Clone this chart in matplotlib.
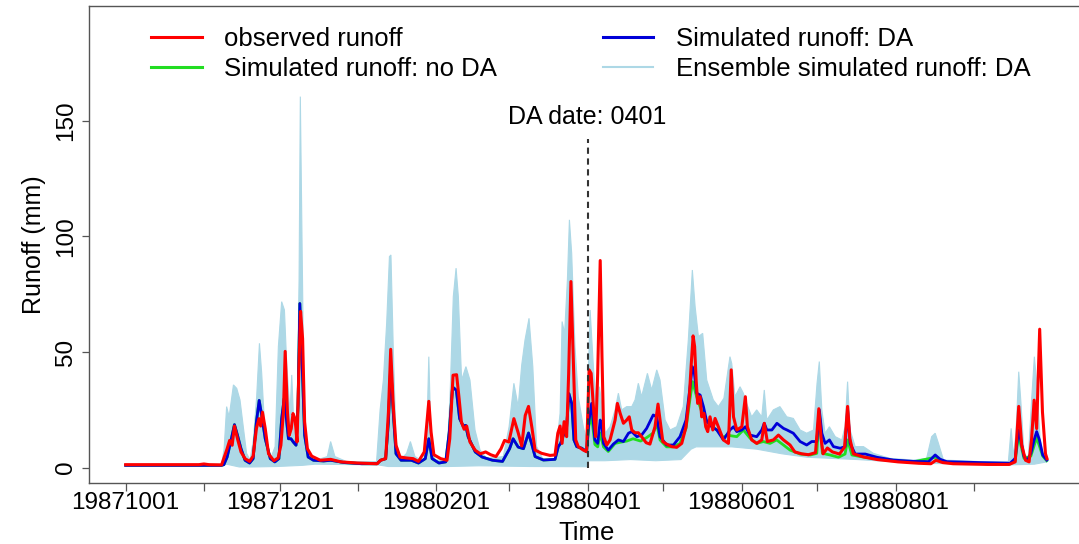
import numpy as np
import matplotlib
matplotlib.use("Agg")
import matplotlib.pyplot as plt
from matplotlib.lines import Line2D

plt.rcParams["font.family"] = ["Liberation Sans", "DejaVu Sans"]

# ------------------------------------------------------------
# Data (day index from 1987-10-01, runoff in mm)
# ------------------------------------------------------------
obs_day = [0, 29, 31, 33, 38, 40.2, 41.2, 42.2, 43.1, 44.3, 45.7, 47.3, 49.1, 50.5, 51.8, 52.8, 53.5, 54.2,
           55.3, 56.6, 58.7, 60.4, 61.5, 62.5, 63.2, 64.1, 64.8, 65.6, 66.3, 67.1, 67.9, 68.6, 69.3, 70.1,
           70.9, 72, 73.7, 77.1, 81.2, 85.3, 92, 99.6, 101, 103, 104.1, 105, 106, 107.1, 108.7, 111.2,
           113.9, 116, 118.3, 120.1, 121, 122.1, 124.8, 127.3, 128.4, 129.7, 131.1, 132.1, 133, 134.1,
           135.1, 136.4, 138.5, 140.5, 142.6, 144.6, 146.7, 148.7, 150.1, 151.8, 153.8, 155.5, 156.9,
           158.3, 159.6, 161, 162.2, 164.8, 168.1, 170.1, 171.2, 172.1, 172.9, 173.7, 174.7, 175.5,
           176.4, 177.3, 178.3, 179.3, 181.3, 182.6, 183.6, 184.4, 185.3, 186.2, 187, 188, 188.7, 189.4,
           190.6, 191.9, 193.9, 194.8, 195.9, 197.2, 198.5, 199.5, 200.5, 201.8, 203.1, 204.4, 206.2,
           207.7, 209.7, 210.9, 211.7, 212.8, 214.3, 216.3, 218.3, 220.3, 222, 223.3, 224, 224.8, 225.4,
           226, 226.6, 227.6, 228.2, 229.1, 229.8, 230.6, 231.5, 232.6, 233.5, 234.8, 236.8, 238.8,
           239.9, 240.8, 242.1, 244.1, 245.5, 246.3, 248, 250, 252, 253, 254.2, 256.6, 258.6, 260.6,
           263.2, 265.1, 267.8, 270.5, 273.3, 274.6, 275.5, 276.3, 278, 280, 282.8, 284.8, 286, 286.9,
           288.3, 292.4, 297.8, 306, 314.2, 319, 321, 323.7, 327.8, 341.5, 350, 352.4, 353.8, 355,
           356.5, 357.9, 358.9, 359.9, 360.9, 362.1, 363.2, 364.4, 365]
obs_val = [1.3, 1.3, 1.6, 1.3, 1.2, 8.2, 11.8, 9.7, 18, 12.5, 6.8, 3.9, 2.7, 5, 16.9, 21.2, 18, 24,
           16.9, 6, 3, 4.2, 9.7, 24, 50.3, 24, 14, 16.9, 23.4, 21.2, 11.1, 41.4, 67.6, 55.8,
           19.8, 8.2, 5, 3.2, 3.6, 2.5, 2, 1.7, 3.2, 3.9, 24, 51.2, 27, 9.7, 4.6, 4.2,
           3.9, 2.7, 6.8, 28.7, 15.4, 5.6, 3.9, 3.2, 12.5, 40, 40.2, 29.9, 19.8, 16.6,
           18, 11.1, 7.5, 6, 6.8, 5.6, 4.8, 8.2, 11.8, 11.1, 21.2, 15.1, 9.4,
           22.6, 26.5, 16.9, 7.6, 6.2, 5.3, 5.5, 14.9, 18, 10.5, 19.9, 13.4, 40.8,
           80.5, 48, 12, 9.1, 7.6, 6.9, 42.3, 40.8, 26.4, 13.4, 40.8, 89.6, 48, 13.4,
           9.8, 12, 20.6, 27.8, 23.5, 19.2, 20.6, 22, 16.3, 15.1, 15.1, 13.4, 10.8,
           10.2, 17.7, 27.5, 20.6, 11.3, 10.2, 9.1, 8.8, 10.5, 17.7, 30.7, 43.7, 57, 52.4,
           37.9, 27.8, 30.7, 22, 23.5, 17.7, 15.6, 22, 16.3, 21.3, 17.7, 12, 10.5,
           42.3, 22, 16.3, 17.7, 30.7, 17.7, 12, 10.5, 12, 19.2, 11.3, 12, 14.1, 12,
           9.8, 6.8, 6, 5.6, 6.5, 25.5, 12.5, 6, 8.5, 6.8, 5.9, 8.9, 26.5, 12.5,
           6, 4.6, 3.5, 2.5, 1.9, 1.7, 3.2, 2.2, 1.7, 1.4, 1.4, 2.5, 26.5, 9.7,
           3.2, 2.5, 12.5, 29.2, 16.9, 59.9, 24.1, 6, 3.9]

da_day = [0, 38, 38.9, 40.2, 41.6, 43.1, 44.3, 45.7, 47.3, 49.1, 50.5, 51.8, 52.9, 53.9, 55.3, 57.3,
          59.1, 60.7, 61.8, 62.8, 63.4, 64.5, 65.5, 66.4, 67.5, 68.3, 69, 69.8, 70.9, 72.3, 74.4,
          78.4, 81.2, 86.6, 93.5, 99.6, 101, 103, 104.1, 105, 106, 107.1, 109.1, 113.2, 116, 118.7,
          120.1, 121.4, 124.1, 126.8, 128.2, 129.5, 131, 132.3, 133.7, 134.7, 135.7, 138.5, 141.2,
          145.3, 149.3, 152.1, 153.5, 155.5, 157.6, 159.6, 161, 162.2, 165.5, 170.1, 171.4, 172.3,
          173.7, 174.7, 175.6, 176.7, 177.6, 178.7, 180.7, 182.6, 183.5, 184.6, 185.9, 187, 188,
          188.7, 189.3, 191.2, 193.2, 195.2, 197.2, 199.2, 200.5, 202.5, 204.4, 206.4, 209, 210.4,
          211.7, 214.3, 217, 219.6, 222, 223.6, 224.5, 225.3, 226.2, 227.6, 228.9, 230.2, 232.2,
          234.2, 236.8, 239.4, 240.8, 242.1, 244.1, 245.5, 247.4, 250, 252, 253, 254, 256, 258,
          260.6, 262, 264.5, 267.2, 269.8, 271.8, 273.8, 274.8, 275.8, 277.1, 278.8, 280.4, 283.1,
          285, 286, 287, 289, 293, 297.6, 304.1, 312.1, 318.1, 320.7, 322.7, 325.3, 338.5, 350.4,
          352.4, 353.7, 354.6, 355.9, 357.2, 358.6, 359.9, 360.9, 362, 363.3, 364.9]
da_val = [1.0, 1.0, 1.3, 4.6, 11.1, 18.6, 14, 8.2, 3.2, 2, 3.9, 19.8, 29.1, 22.6, 12.5, 3.9,
          2.5, 3.9, 21.2, 29.9, 24, 12.5, 12.5, 11.1, 9.7, 27, 71, 48.6, 14, 4.6, 3.2,
          2.9, 3.2, 2.2, 1.7, 1.7, 3.2, 3.9, 19.8, 44.3, 24, 6, 3.2, 3.2, 2, 3.9,
          12.5, 3.9, 2, 2.5, 15.4, 34.9, 33.5, 21.2, 18, 18.3, 13.3, 6.8, 4.6,
          3.2, 2.7, 8.2, 12.5, 8.9, 8.2, 15, 9.7, 4.8, 3.3, 3.6, 9.1, 10.5,
          14.9, 17.7, 32, 27.8, 12, 9.1, 8.4, 6.9, 20, 27.8, 12, 10.5, 20.6,
          17.7, 10.5, 7.6, 10.2, 12, 11.3, 14.9, 15.6, 13.4, 14.1, 17, 22.8, 22,
          13.4, 9.8, 9.8, 13.4, 20.6, 35, 43.7, 40.8, 32.2, 31.4, 26.4, 19.9, 17.7,
          16.3, 12, 16.3, 17.7, 15.6, 16.3, 17.7, 14.1, 13.4, 16.3, 19.2, 16.3, 16.3, 19.2,
          17, 16.3, 14.9, 11.3, 9.8, 11.3, 11.3, 25, 14.9, 10.5, 12, 9.1, 8.4,
          9.1, 25, 10.5, 5.9, 5.9, 4.5, 3.3, 2.7, 2.6, 5.5, 3.6, 2.6, 2.2, 1.9,
          4, 16.3, 12, 4.8, 3, 6.2, 12, 15.6, 12, 5.5, 3.3]

# no-DA run after the assimilation date (identical to the DA run before it)
noda_day = [182.6, 183.5, 184.6, 185.9, 187, 188, 189.3, 191.2, 193.9, 196, 198.5, 201, 204, 206.4,
            209, 210.4, 211.7, 214.3, 217, 219.6, 222, 223.6, 224.6, 226.2, 228.9, 231.5, 234.2,
            236.8, 238.1, 242.1, 244.7, 247.4, 250, 252.6, 255.3, 257.9, 260.6, 263.2, 267.2,
            271.3, 273.8, 274.8, 276, 279, 282.4, 285, 286, 287.7, 291, 298.9, 312.1, 320.7,
            325.3, 338.5, 350.4, 352.4, 353.7, 355.9, 358.6, 360.9, 363.3, 364.9]
noda_val = [6.9, 18, 22, 10, 9, 15, 9, 7, 10.5, 11, 11.5, 12.5, 11.5, 13,
            15, 19, 12, 9, 9, 10.5, 17, 30, 37.2, 30.7, 22, 18.5, 16.3,
            13, 14.1, 13.4, 16.3, 12.7, 10.5, 11.3, 10.5, 12, 9.8, 7.6, 5.9,
            5.5, 6.2, 24.2, 6.2, 5.5, 4.5, 5.9, 12, 5.5, 4.8, 3.6, 2.5, 4.5,
            2.2, 1.8, 1.6, 3, 14, 4, 5, 13, 5, 3]

# ensemble envelope (max / min of the members)
ens_hi_day = [0, 38, 39, 40, 41, 42.7, 44, 45.3, 46.6, 47.9, 49.3, 50.6, 51.9, 53, 53.9, 55.2, 57.2,
              59.2, 60.5, 61.8, 62.9, 63.8, 65.1, 65.8, 66.7, 67.7, 68.7, 69.2, 69.9, 70.7, 71.7,
              75.7, 79.9, 81.2, 82.9, 87.6, 99.4, 100.8, 102.1, 103.4, 104.5, 105.1, 106, 107.1,
              108.7, 111.3, 112.8, 114.6, 118, 119.3, 120.1, 120.9, 122.6, 127.2, 128.5, 129.8,
              130.9, 131.8, 133.1, 134.8, 136.4, 138.4, 140.4, 143, 149.6, 151.9, 153.8, 155.5,
              156.9, 158.2, 159.8, 161.3, 162.8, 165.5, 170.1, 172.1, 172.9, 173.9, 175, 175.8,
              176.7, 178, 179.3, 181.3, 182.6, 184, 185.3, 186.6, 187.7, 188.7, 190, 191.9, 193.9,
              195.2, 196.5, 198.5, 200.5, 201.8, 203.1, 204.4, 206.7, 208.4, 210.4, 211.7, 213.7,
              215.7, 218.3, 220.9, 222.9, 224.5, 225.6, 226.9, 228.6, 230.2, 232.8, 234.8, 237,
              239.4, 240.1, 241.4, 243.4, 244.7, 246, 248, 250, 252, 253, 254, 256.6, 259.2, 261.9,
              264.5, 267.2, 269.8, 272.5, 273.9, 274.8, 275.8, 277.1, 278.8, 281.1, 283.7, 285,
              286, 287, 289, 292.3, 296.2, 302.8, 312.1, 317.3, 319.3, 320.7, 322, 324, 338.5,
              349.7, 350.8, 351.7, 352.7, 353.8, 354.6, 355.9, 357.6, 358.9, 360, 360.9, 362.3,
              363.6, 364.9]
ens_hi_val = [1.4, 1.4, 8, 26.4, 22, 35.8, 34.3, 29.3, 17.7, 6.2, 3.3, 12, 30.7, 53.8, 40.8, 14.9, 3.3,
              9.1, 52.4, 71.8, 68.2, 45.1, 23.5, 40.1, 16.3, 9.1, 81.2, 160.5, 95.6, 23.5, 6.2,
              3.3, 4.8, 11.3, 4.8, 2.6, 2.6, 25, 37.9, 62.5, 91.3, 92, 52.4, 12,
              3.3, 6.2, 11.3, 4.8, 2.6, 14.9, 48, 14.9, 3.3, 3.3, 30.7, 74,
              86.3, 74, 37.9, 43.7, 37.9, 16.3, 7.6, 4, 4.8, 17.7, 36.5, 26.4,
              44.4, 55.2, 64.6, 43.7, 9.1, 3.3, 3.3, 23.5, 63.2, 58.1, 81.2, 107.2,
              92.7, 52.4, 30.7, 17.7, 12, 68.2, 43.7, 23.5, 35, 26.4, 14.9, 17.7, 25,
              32.2, 25, 26.4, 26.4, 29.3, 36.5, 30.7, 40.8, 33.6, 42.3, 37.9, 20.6,
              16.3, 17.7, 26.4, 55.2, 85.5, 69.7, 56.7, 58.1, 37.9, 29.3, 26.4, 30,
              48, 45.1, 30.7, 35, 32.2, 27.8, 22, 25, 22, 33.6, 20.6, 25, 26.4, 22,
              21.3, 16.3, 14.9, 16.3, 36.5, 45.9, 25, 14.9, 17.7, 13.4, 12, 17.7,
              37.2, 16.3, 9.1, 9.1, 6.2, 4, 3.3, 4, 13.4, 14.9, 10.5, 3.3, 2.6,
              2.6, 17, 4.8, 14.9, 41.5, 29.3, 6.2, 4, 29.3, 48, 36.5, 12,
              4.8, 3.6]
ens_lo_day = [0, 38, 40, 45, 50, 60, 70, 75, 100, 104, 128, 140, 160, 182.6, 183.5, 190, 200, 210,
              220, 224, 226, 240, 250, 260, 270, 280, 290, 305, 320, 340, 350, 360, 364.9]
ens_lo_val = [0.9, 0.9, 1.5, 0.3, 0.3, 0.5, 1, 1.5, 1.2, 0.5, 0.5, 0.8, 0.5, 0.4, 3.0, 3.0, 3.5, 3.0,
              3.5, 8, 9, 9, 8, 6, 4.5, 4, 3.5, 2.5, 1.8, 1.5, 1.2, 1.5, 2.5]

tick_days = [0, 31, 61, 92, 123, 152, 183, 213, 244, 274, 305, 336]
tick_labels = ["19871001", "", "19871201", "", "19880201", "", "19880401", "", "19880601", "",
               "19880801", ""]
da_date = 183
da_line_top = 142

# ------------------------------------------------------------
# Plot
# ------------------------------------------------------------
fig = plt.figure(figsize=(10.79, 5.44), dpi=100)
ax = fig.add_axes([0.0823, 0.1127, 0.9222, 0.8763])

c_obs = "#ff0000"
c_da = "#0000d8"
c_noda = "#22dd22"
c_ens = "#add8e6"

poly_x = np.concatenate([ens_hi_day, ens_lo_day[::-1]])
poly_y = np.concatenate([ens_hi_val, ens_lo_val[::-1]])
ax.fill(poly_x, poly_y, color=c_ens, lw=0.8, zorder=1)

pre_day = [d for d in da_day if d < noda_day[0]]
pre_val = [v for d, v in zip(da_day, da_val) if d < noda_day[0]]
ax.plot(pre_day + noda_day, pre_val + noda_val, color=c_noda, lw=2.0, zorder=2)
ax.plot(da_day, da_val, color=c_da, lw=2.0, zorder=3)
ax.plot(obs_day, obs_val, color=c_obs, lw=2.2, zorder=4)

ax.vlines(da_date, 0, da_line_top, colors="#333333", linestyles=(0, (3, 2.2)), lw=1.5, zorder=5)
ax.text(da_date, 151.5, "DA date: 0401", ha="center", va="center", fontsize=18)

ax.set_xlim(-14.6, 379.6)
ax.set_ylim(-6.5, 199.7)
ax.set_xticks(tick_days)
ax.set_xticklabels(tick_labels)
ax.set_yticks([0, 50, 100, 150])
ax.tick_params(axis="x", labelsize=17.5, length=5.4, width=0.9, color="#555555", pad=1)
ax.tick_params(axis="y", labelsize=17.5, length=5.4, width=0.9, color="#555555", pad=3,
               labelrotation=90)
for lab in ax.get_yticklabels():
    lab.set_va("center")
for sp in ax.spines.values():
    sp.set_color("#555555")
    sp.set_linewidth(1.0)

ax.set_xlabel("Time", fontsize=18.5, labelpad=5)
ax.set_ylabel("Runoff (mm)", fontsize=18, labelpad=6.5)

handles = [
    Line2D([], [], color=c_obs, lw=2.2),
    Line2D([], [], color=c_noda, lw=2.2),
    Line2D([], [], color=c_da, lw=2.2),
    Line2D([], [], color=c_ens, lw=1.5),
]
labels = ["observed runoff", "Simulated runoff: no DA", "Simulated runoff: DA",
          "Ensemble simulated runoff: DA"]
fig.legend(handles, labels, loc="upper left", bbox_to_anchor=(0.1404, 0.951),
           ncol=2, frameon=False, fontsize=18.5, handlelength=1.95, handletextpad=0.87,
           columnspacing=4.14, labelspacing=0.25, borderpad=0, borderaxespad=0)

fig.savefig("out.png", dpi=100)
